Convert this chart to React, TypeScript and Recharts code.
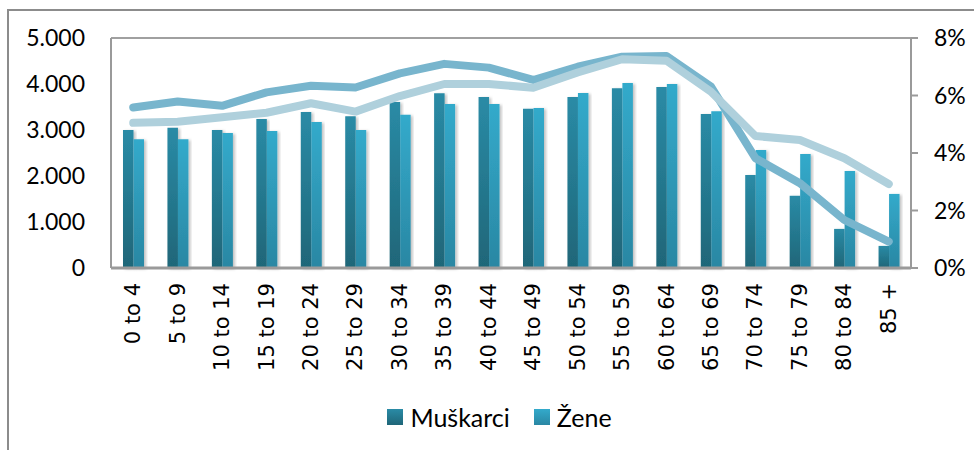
import React from "react";
import { ComposedChart, Bar, Line, XAxis, YAxis, CartesianGrid, Legend } from "recharts";

const ageGroups = [
  "0 to 4", "5 to 9", "10 to 14", "15 to 19", "20 to 24", "25 to 29",
  "30 to 34", "35 to 39", "40 to 44", "45 to 49", "50 to 54", "55 to 59",
  "60 to 64", "65 to 69", "70 to 74", "75 to 79", "80 to 84", "85 +",
];
const menCount = [3000, 3050, 3000, 3240, 3390, 3300, 3610, 3800, 3720, 3460, 3720, 3910, 3935, 3350, 2020, 1570, 850, 480];
const womenCount = [2800, 2800, 2935, 2980, 3175, 3000, 3330, 3565, 3565, 3480, 3805, 4020, 4000, 3410, 2565, 2480, 2110, 1610];
const menShare = [5.58, 5.79, 5.64, 6.11, 6.34, 6.28, 6.77, 7.1, 6.97, 6.54, 7.0, 7.35, 7.37, 6.31, 3.82, 2.95, 1.67, 0.92];
const womenShare = [5.05, 5.09, 5.24, 5.4, 5.73, 5.44, 5.98, 6.4, 6.4, 6.27, 6.8, 7.26, 7.21, 6.13, 4.59, 4.45, 3.82, 2.92];
const countTicks = [0, 1000, 2000, 3000, 4000, 5000];
const shareTicks = [0, 2, 4, 6, 8];

const data = ageGroups.map((age, i) => ({
  age,
  men: menCount[i],
  women: womenCount[i],
  menPct: menShare[i],
  womenPct: womenShare[i],
}));

const fmtCount = (v: number) => (v === 0 ? "0" : `${v / 1000}.000`);

const AgeTick = ({ x, y, payload }: any) => (
  <text
    x={x}
    y={y}
    transform={`rotate(-90 ${x} ${y})`}
    textAnchor="end"
    dominantBaseline="central"
    fontFamily="DejaVu Sans"
    fontSize={21}
    fill="#000"
  >
    {payload.value}
  </text>
);

const LegendBox = () => (
  <div style={{ display: "flex", justifyContent: "center", gap: 24, paddingTop: 14, paddingLeft: 28, fontFamily: "Lato", fontSize: 25, color: "#000" }}>
    <span style={{ display: "flex", alignItems: "center", gap: 7 }}>
      <span style={{ width: 16, height: 16, background: "linear-gradient(#2a8ba6, #1f6678)", display: "inline-block" }} />
      Muškarci
    </span>
    <span style={{ display: "flex", alignItems: "center", gap: 7 }}>
      <span style={{ width: 16, height: 16, background: "linear-gradient(#33aacb, #2a87a3)", display: "inline-block" }} />
      Žene
    </span>
  </div>
);

export default function App() {
  return (
    <div style={{ position: "absolute", left: 0, top: 0, width: 974, height: 450, overflow: "hidden", background: "#fff" }}>
      <div style={{ position: "absolute", left: 7, top: 9, width: 1100, height: 600, border: "2px solid #8c8c8c" }} />
      <ComposedChart
        width={974}
        height={450}
        data={data}
        margin={{ top: 38, right: 3, left: 0, bottom: 12 }}
        barGap={0}
        style={{ position: "absolute", left: 0, top: 0 }}
      >
        <defs>
          <linearGradient id="gMen" x1="0" y1="0" x2="0" y2="1">
            <stop offset="0%" stopColor="#2a8ba6" />
            <stop offset="100%" stopColor="#1f6678" />
          </linearGradient>
          <linearGradient id="gWomen" x1="0" y1="0" x2="0" y2="1">
            <stop offset="0%" stopColor="#33aacb" />
            <stop offset="100%" stopColor="#2a87a3" />
          </linearGradient>
          <filter id="barShadow" x="-30%" y="-5%" width="160%" height="110%">
            <feDropShadow dx="2" dy="1" stdDeviation="1.5" floodColor="#000" floodOpacity="0.25" />
          </filter>
        </defs>
        <CartesianGrid stroke="#a0a0a0" strokeWidth={2} vertical={false} />
        <XAxis
          dataKey="age"
          height={120}
          interval={0}
          tick={<AgeTick />}
          tickLine={false}
          tickMargin={9}
          axisLine={{ stroke: "#9a9a9a", strokeWidth: 3 }}
        />
        <YAxis
          yAxisId="count"
          width={111}
          domain={[0, 5000]}
          ticks={countTicks}
          tickFormatter={fmtCount}
          tickLine={false}
          tickMargin={20}
          axisLine={{ stroke: "#9a9a9a", strokeWidth: 2 }}
          tick={{ fontFamily: "Lato", fontSize: 23, fill: "#000" }}
        />
        <YAxis
          yAxisId="share"
          orientation="right"
          width={60}
          domain={[0, 8]}
          ticks={shareTicks}
          tickFormatter={(v: number) => `${v}%`}
          tickSize={7}
          tickMargin={16}
          tickLine={{ stroke: "#9a9a9a", strokeWidth: 2 }}
          axisLine={{ stroke: "#9a9a9a", strokeWidth: 2 }}
          tick={{ fontFamily: "Lato", fontSize: 23, fill: "#000" }}
        />
        <Legend verticalAlign="bottom" height={50} content={<LegendBox />} />
        <Bar yAxisId="count" dataKey="men" name="Muškarci" barSize={10.5} fill="url(#gMen)" filter="url(#barShadow)" isAnimationActive={false} />
        <Bar yAxisId="count" dataKey="women" name="Žene" barSize={10.5} fill="url(#gWomen)" filter="url(#barShadow)" isAnimationActive={false} />
        <Line yAxisId="share" dataKey="menPct" type="linear" stroke="#78b5cd" strokeWidth={8} strokeLinecap="round" strokeLinejoin="round" dot={false} legendType="none" isAnimationActive={false} />
        <Line yAxisId="share" dataKey="womenPct" type="linear" stroke="#afd0dc" strokeWidth={8} strokeLinecap="round" strokeLinejoin="round" dot={false} legendType="none" isAnimationActive={false} />
      </ComposedChart>
    </div>
  );
}
